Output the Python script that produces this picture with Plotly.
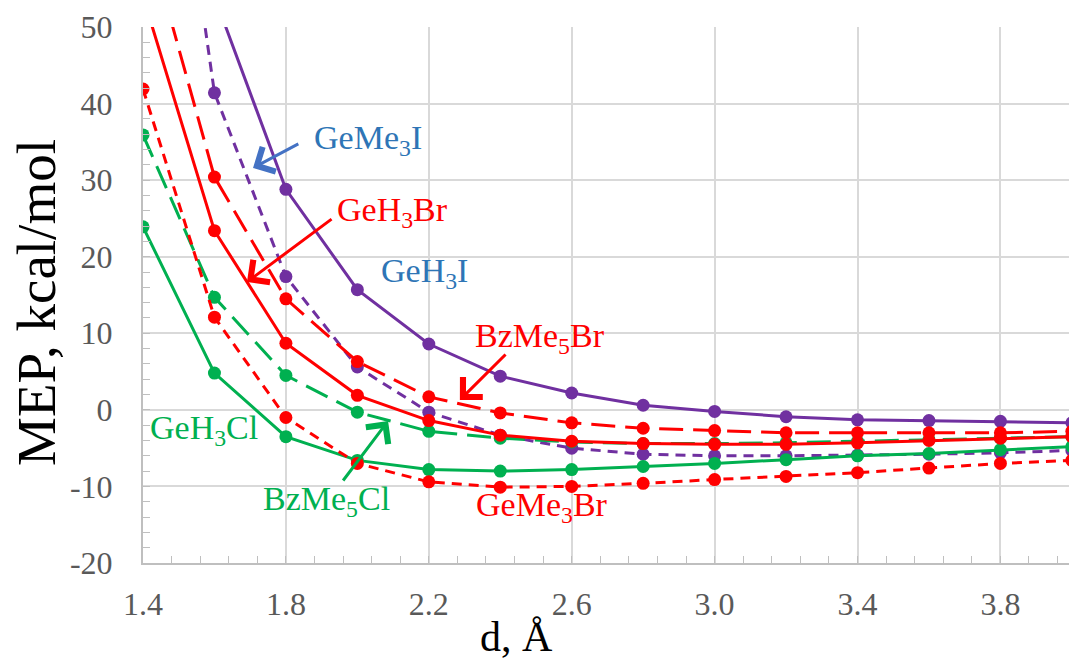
import plotly.graph_objects as go

d = [1.4, 1.6, 1.8, 2.0, 2.2, 2.4, 2.6, 2.8, 3.0, 3.2, 3.4, 3.6, 3.8, 4.0]

GeH3I   = [95.0, 54.0, 28.8, 15.7, 8.6, 4.4, 2.2, 0.6, -0.2, -0.9, -1.3, -1.4, -1.5, -1.7]
GeMe3I  = [107.0, 41.4, 17.4, 5.6, -0.3, -3.3, -5.0, -5.8, -6.0, -6.0, -5.9, -5.8, -5.6, -5.3]
GeH3Br  = [54.0, 23.4, 8.7, 1.9, -1.4, -3.3, -4.1, -4.4, -4.5, -4.5, -4.3, -4.0, -3.7, -3.5]
GeMe3Br = [41.9, 12.1, -1.0, -7.0, -9.4, -10.1, -10.0, -9.6, -9.1, -8.7, -8.2, -7.6, -7.0, -6.6]
BzMe5Br = [64.0, 30.4, 14.5, 6.3, 1.7, -0.4, -1.7, -2.4, -2.7, -3.0, -3.0, -3.0, -3.0, -2.8]
GeH3Cl  = [23.9, 4.8, -3.5, -6.6, -7.8, -8.0, -7.8, -7.4, -7.0, -6.5, -6.0, -5.7, -5.2, -4.8]
BzMe5Cl = [35.9, 14.7, 4.5, -0.3, -2.8, -3.7, -4.2, -4.4, -4.4, -4.3, -4.1, -3.9, -3.7, -3.5]

x_ticks = [1.4, 1.8, 2.2, 2.6, 3.0, 3.4, 3.8]
x_ticklabels = ["1.4", "1.8", "2.2", "2.6", "3.0", "3.4", "3.8"]
y_ticks = [-20, -10, 0, 10, 20, 30, 40, 50]
y_ticklabels = ["-20", "-10", "0", "10", "20", "30", "40", "50"]

PURPLE = "#7030A0"
RED = "#FF0000"
GREEN = "#00B050"
BLUE = "#2E75B6"
FONT = "Liberation Serif, Times New Roman, serif"

series = [
    ("GeH3I", GeH3I, PURPLE, "solid"),
    ("GeMe3I", GeMe3I, PURPLE, "10px,7px"),
    ("BzMe5Cl", BzMe5Cl, GREEN, "24px,10px"),
    ("GeH3Cl", GeH3Cl, GREEN, "solid"),
    ("GeMe3Br", GeMe3Br, RED, "10px,7px"),
    ("BzMe5Br", BzMe5Br, RED, "24px,10px"),
    ("GeH3Br", GeH3Br, RED, "solid"),
]

fig = go.Figure()
for name, vals, col, dash in series:
    fig.add_trace(go.Scatter(
        x=d, y=vals, name=name, mode="lines+markers",
        line=dict(color=col, width=3, dash=dash),
        marker=dict(color=col, size=13),
        showlegend=False,
    ))

labels = [
    ("GeMe<sub>3</sub>I", 2.030, 35.2, BLUE),
    ("GeH<sub>3</sub>Br", 2.097, 25.8, RED),
    ("GeH<sub>3</sub>I", 2.187, 17.9, BLUE),
    ("BzMe<sub>5</sub>Br", 2.511, 9.4, RED),
    ("GeMe<sub>3</sub>Br", 2.517, -12.7, RED),
    ("GeH<sub>3</sub>Cl", 1.571, -2.6, GREEN),
    ("BzMe<sub>5</sub>Cl", 1.915, -11.9, GREEN),
]
annotations = []
for txt, xx, yy, col in labels:
    annotations.append(dict(
        x=xx, y=yy, xref="x", yref="y", text=txt, showarrow=False,
        font=dict(family=FONT, size=34, color=col),
        xanchor="center", yanchor="middle",
    ))

arrows = [
    (1.708, 31.6, 1.839, 34.85, "#4472C4"),
    (1.691, 16.7, 1.932, 25.05, RED),
    (2.287, 1.29, 2.419, 7.42, RED),
    (2.086, -1.46, 1.957, -9.42, GREEN),
]
for tx, ty, sx, sy, col in arrows:
    annotations.append(dict(
        x=tx, y=ty, xref="x", yref="y", ax=sx, ay=sy, axref="x", ayref="y",
        text="", showarrow=True, arrowhead=4, arrowsize=1.8, arrowwidth=3,
        arrowcolor=col, standoff=0,
    ))

# axis titles
annotations.append(dict(
    x=0, y=0.5, xref="paper", yref="paper", text="MEP, kcal/mol",
    textangle=-90, showarrow=False, xanchor="center", yanchor="middle",
    xshift=-107, yshift=-8, font=dict(family=FONT, size=55, color="black"),
))
annotations.append(dict(
    x=0.403, y=0, xref="paper", yref="paper", text="d, Å",
    showarrow=False, xanchor="center", yanchor="middle",
    yshift=-74, font=dict(family=FONT, size=42, color="black"),
))

fig.update_layout(
    width=1069, height=669,
    margin=dict(l=143, r=0, t=27, b=106),
    paper_bgcolor="white", plot_bgcolor="white",
    annotations=annotations,
    xaxis=dict(
        range=[1.4, 3.992], tickmode="array", tickvals=x_ticks, ticktext=x_ticklabels,
        showgrid=True, gridcolor="#D9D9D9", gridwidth=2,
        showline=True, linecolor="#BFBFBF", linewidth=2,
        ticks="inside", ticklen=7, tickcolor="#BFBFBF", tickwidth=1,
        minor=dict(dtick=0.08, tick0=1.4, ticks="inside", ticklen=7,
                   tickcolor="#BFBFBF", tickwidth=1, showgrid=False),
        tickfont=dict(family=FONT, size=32, color="#595959"),
        ticklabelstandoff=12, zeroline=False,
    ),
    yaxis=dict(
        range=[-20, 50], tickmode="array", tickvals=y_ticks, ticktext=y_ticklabels,
        showgrid=True, gridcolor="#D9D9D9", gridwidth=2,
        showline=True, linecolor="#BFBFBF", linewidth=2,
        ticks="inside", ticklen=7, tickcolor="#BFBFBF", tickwidth=1,
        minor=dict(dtick=2, tick0=0, ticks="inside", ticklen=7,
                   tickcolor="#BFBFBF", tickwidth=1, showgrid=False),
        tickfont=dict(family=FONT, size=32, color="#595959"),
        ticklabelstandoff=22, zeroline=False,
    ),
)

fig.write_html(
    "out.html",
    config={"displayModeBar": False},
    post_script="document.body.style.margin='0';document.body.style.overflow='hidden';",
)
